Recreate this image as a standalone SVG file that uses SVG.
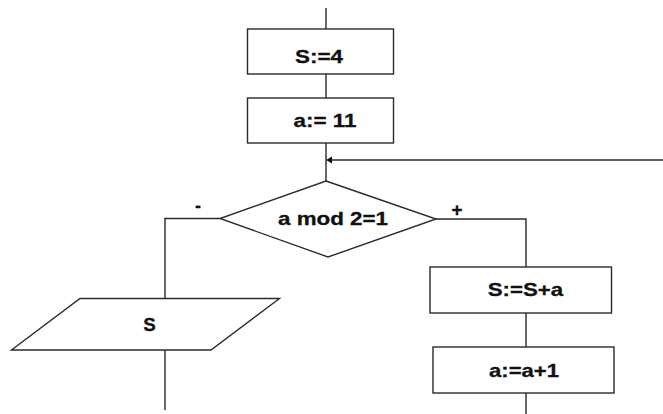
<svg xmlns="http://www.w3.org/2000/svg" width="663" height="414" viewBox="0 0 663 414">
<style>
.bg{fill:#fff}
.shape{fill:#fff;stroke:#2a2a2a;stroke-width:1.4}
.line{fill:none;stroke:#2a2a2a;stroke-width:1.4}
.t{font-family:"Liberation Sans",Arial,sans-serif;font-weight:bold;font-size:18.5px;fill:#111;stroke:#111;stroke-width:0.3;text-anchor:middle}
</style>
<rect class="bg" x="0" y="0" width="663" height="414"/>
<g id="connectors">
<line class="line" x1="326" y1="8" x2="326" y2="29"/>
<line class="line" x1="326" y1="74" x2="326" y2="98"/>
<line class="line" x1="326" y1="143" x2="326" y2="181"/>
<line class="line" x1="663" y1="160" x2="332" y2="160"/>
<path d="M326,160 L332,156.5 L332,163.5 z" fill="#111"/>
<polyline class="line" points="220,218.5 165,218.5 165,298"/>
<line class="line" x1="165" y1="350" x2="165" y2="410"/>
<polyline class="line" points="436,219 526,219 526,267"/>
<line class="line" x1="526" y1="313" x2="526" y2="347"/>
<line class="line" x1="526" y1="393" x2="526" y2="414"/>
<text class="t" x="198" y="212" textLength="6" lengthAdjust="spacingAndGlyphs">-</text>
<text class="t" x="457" y="216" textLength="11" lengthAdjust="spacingAndGlyphs">+</text>
</g>
<g id="n_s4">
<rect class="shape" x="247.5" y="29" width="146" height="45"/>
<text class="t" x="319" y="63" textLength="48" lengthAdjust="spacingAndGlyphs">S:=4</text>
</g>
<g id="n_a11">
<rect class="shape" x="247.5" y="98" width="146" height="45"/>
<text class="t" x="325" y="127" textLength="63" lengthAdjust="spacingAndGlyphs">a:= 11</text>
</g>
<g id="n_cond">
<polygon class="shape" points="326,181 436,219 328,257 220,218.5"/>
<text class="t" x="333" y="224.5" textLength="110" lengthAdjust="spacingAndGlyphs">a mod 2=1</text>
</g>
<g id="n_out">
<polygon class="shape" points="80,298.5 279.5,298.5 211,350 11.5,350"/>
<text class="t" x="149.5" y="330.5" textLength="12.5" lengthAdjust="spacingAndGlyphs">S</text>
</g>
<g id="n_ssa">
<rect class="shape" x="430" y="267" width="181.5" height="46"/>
<text class="t" x="525.5" y="296" textLength="75.5" lengthAdjust="spacingAndGlyphs">S:=S+a</text>
</g>
<g id="n_aa1">
<rect class="shape" x="433" y="347" width="181" height="46"/>
<text class="t" x="524" y="377" textLength="70" lengthAdjust="spacingAndGlyphs">a:=a+1</text>
</g>
</svg>
